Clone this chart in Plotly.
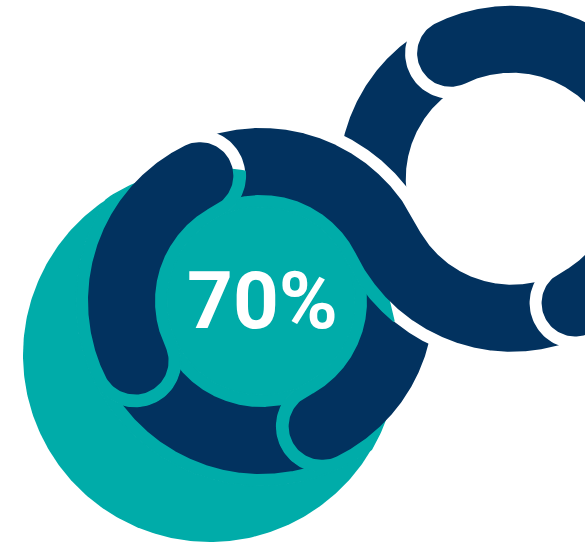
import numpy as np
import plotly.graph_objects as go

# ---------------- data ----------------
label_text = "70%"
# each segment: list of arcs (ring index, start angle deg, end angle deg), drawn bottom -> top
segment_names = ["bottom", "lower_s", "top_right", "upper_s", "right", "left"]
segment_arcs = [
    [(0, 200, 300)],
    [(0, 296, 386), (1, 206, 118)],
    [(1, 116, -10)],
    [(0, 113, 26), (1, 206, 297)],
    [(1, 297, 400)],
    [(0, 116, 205.5)],
]
segment_start_caps = [False, True, True, False, True, True]
segment_end_caps = [False, False, False, False, False, True]

# ---------------- geometry / style ----------------
TEAL = "#00ACA9"
NAVY = "#02325F"
WHITE = "#FFFFFF"
W, H = 585, 544
MID = 139.5
HALF = 33.5
GAP = 12.0
C1 = (261.0, 301.0)
JA = np.radians(26.0)
C2 = (C1[0] + 2 * MID * np.cos(JA), C1[1] - 2 * MID * np.sin(JA))
CENTERS = [C1, C2]
TEAL_C = (210.0, 355.0)
TEAL_R = 187.0


def centerline(arcs):
    px, py, tx, ty = [], [], [], []
    for k, (ring, t0, t1) in enumerate(arcs):
        cx, cy = CENTERS[ring]
        n = max(3, int(abs(t1 - t0) / 0.4) + 1)
        ts = np.radians(np.linspace(t0, t1, n))
        s = np.sign(t1 - t0)
        x = cx + MID * np.cos(ts)
        y = cy - MID * np.sin(ts)
        dx = s * (-np.sin(ts))
        dy = s * (-np.cos(ts))
        if k > 0:
            x, y, dx, dy = x[1:], y[1:], dx[1:], dy[1:]
        px.append(x); py.append(y); tx.append(dx); ty.append(dy)
    return (np.concatenate(px), np.concatenate(py),
            np.concatenate(tx), np.concatenate(ty))


def band_polygon(arcs, h, cap_s, cap_e):
    px, py, tx, ty = centerline(arcs)
    nx, ny = -ty, tx
    lx, ly = px + h * nx, py + h * ny
    rx, ry = px - h * nx, py - h * ny
    xs = list(lx); ys = list(ly)
    if cap_e:
        phi = np.arctan2(ty[-1], tx[-1])
        a = np.linspace(phi + np.pi / 2, phi - np.pi / 2, 60)
        xs += list(px[-1] + h * np.cos(a)); ys += list(py[-1] + h * np.sin(a))
    xs += list(rx[::-1]); ys += list(ry[::-1])
    if cap_s:
        phi = np.arctan2(ty[0], tx[0])
        a = np.linspace(phi - np.pi / 2, phi - 3 * np.pi / 2, 60)
        xs += list(px[0] + h * np.cos(a)); ys += list(py[0] + h * np.sin(a))
    return list(zip(xs, ys))


def circle_poly(c, r, n=360):
    a = np.linspace(0, 2 * np.pi, n, endpoint=False)
    return list(zip(c[0] + r * np.cos(a), c[1] + r * np.sin(a)))


def clip(subject, clipper):
    def inside(p, a, b):
        return (b[0] - a[0]) * (p[1] - a[1]) - (b[1] - a[1]) * (p[0] - a[0]) >= 0

    def inter(s, e, a, b):
        x1, y1 = s; x2, y2 = e; x3, y3 = a; x4, y4 = b
        den = (x1 - x2) * (y3 - y4) - (y1 - y2) * (x3 - x4)
        if den == 0:
            return e
        t = ((x1 - x3) * (y3 - y4) - (y1 - y3) * (x3 - x4)) / den
        return (x1 + t * (x2 - x1), y1 + t * (y2 - y1))

    out = subject
    for i in range(len(clipper)):
        a = clipper[i - 1]; b = clipper[i]
        inp = out; out = []
        if not inp:
            break
        s = inp[-1]
        for e in inp:
            if inside(e, a, b):
                if not inside(s, a, b):
                    out.append(inter(s, e, a, b))
                out.append(e)
            elif inside(s, a, b):
                out.append(inter(s, e, a, b))
            s = e
    return out


def poly_trace(poly, color, lw=0.0):
    xs = [p[0] for p in poly] + [poly[0][0]]
    ys = [p[1] for p in poly] + [poly[0][1]]
    return go.Scatter(x=xs, y=ys, mode="lines", fill="toself", fillcolor=color,
                      line=dict(width=lw, color=color), hoverinfo="skip",
                      showlegend=False)


fig = go.Figure()
teal_poly = circle_poly(TEAL_C, TEAL_R)
fig.add_trace(poly_trace(teal_poly, TEAL))

for arcs, cs, ce in zip(segment_arcs, segment_start_caps, segment_end_caps):
    outer = band_polygon(arcs, HALF + GAP, cs, ce)
    fig.add_trace(poly_trace(outer, WHITE))
    clipped = clip(outer, teal_poly)
    if len(clipped) > 2:
        fig.add_trace(poly_trace(clipped, TEAL, 1.5))
    fig.add_trace(poly_trace(band_polygon(arcs, HALF, cs, ce), NAVY))

fig.add_annotation(x=C1[0] + 1, y=C1[1], xref="x", yref="y", text=label_text,
                   showarrow=False, xanchor="center", yanchor="middle",
                   font=dict(family="Roboto", size=80, color=WHITE, weight="bold"))

fig.update_layout(
    width=W, height=H, margin=dict(l=0, r=0, t=0, b=0),
    paper_bgcolor=WHITE, plot_bgcolor=WHITE, showlegend=False, hovermode=False,
    xaxis=dict(range=[0, W], visible=False, fixedrange=True),
    yaxis=dict(range=[H, 0], visible=False, fixedrange=True),
)
fig.write_html(
    "out.html",
    config={"displayModeBar": False},
    post_script="document.body.style.margin='0';document.body.style.padding='0';"
                "document.body.style.overflow='hidden';",
)
